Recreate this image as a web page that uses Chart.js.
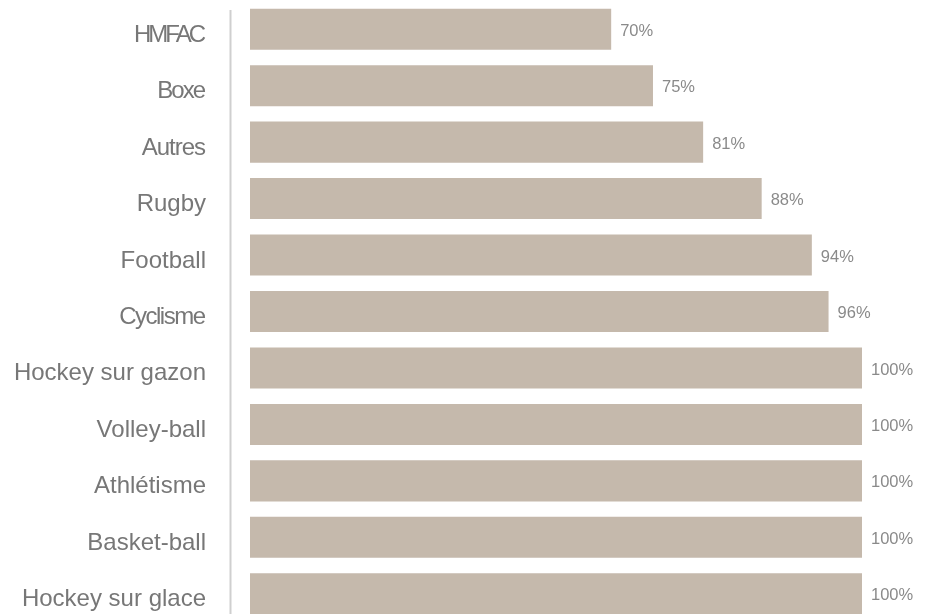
<!DOCTYPE html>
<html>
<head>
<meta charset="utf-8">
<script src="https://cdn.jsdelivr.net/npm/chart.js@4"></script>
<style>
  html, body { margin: 0; padding: 0; background: #fff; overflow: hidden; }
  #wrap { width: 933px; height: 622px; position: relative; }
</style>
</head>
<body>
<div id="wrap"><canvas id="sports"></canvas></div>
<script>
// donnees
let sports = ["HMFAC", "Boxe", "Autres", "Rugby", "Football", "Cyclisme",
  "Hockey sur gazon", "Volley-ball", "Athlétisme", "Basket-ball", "Hockey sur glace"];
let pourcentages = [70, 75, 81, 88, 94, 96, 100, 100, 100, 100, 100];

let barColor = "#c5b9ac";
// certains libelles sont plus serres dans l'original
let serrage = { "HMFAC": -3, "Boxe": -2, "Autres": -1, "Cyclisme": -1.5 };

// libelles de categorie, etiquettes de valeur, trait vertical
const decor = {
    id: "decor",
    afterDatasetsDraw(chart) {
        let ctx = chart.ctx;
        let meta = chart.getDatasetMeta(0);
        let yScale = chart.scales.y;
        ctx.save();
        ctx.font = "16.5px 'Liberation Sans', Arial, sans-serif";
        ctx.fillStyle = "#8a8a8a";
        ctx.textAlign = "left";
        ctx.textBaseline = "middle";
        meta.data.forEach(function(bar, i) {
            ctx.fillText(pourcentages[i] + "%", bar.x + 9, bar.y + 2);
        });

        ctx.font = "24px 'Liberation Sans', Arial, sans-serif";
        ctx.fillStyle = "#777";
        ctx.textAlign = "right";
        ctx.textBaseline = "alphabetic";
        let right = chart.chartArea.left - 44;
        sports.forEach(function(nom, i) {
            let y = yScale.getPixelForValue(i);
            let ls = serrage[nom] || 0;
            ctx.letterSpacing = ls + "px";
            // letterSpacing compte aussi apres la derniere lettre
            ctx.fillText(nom, right + ls, y + 12.5);
        });
        ctx.letterSpacing = "0px";

        // trait
        let lx = chart.chartArea.left - 19.5;
        ctx.strokeStyle = "#cfcfcf";
        ctx.lineWidth = 2;
        ctx.beginPath();
        ctx.moveTo(lx, 10);
        ctx.lineTo(lx, chart.height);
        ctx.stroke();
        ctx.restore();
    }
};

new Chart("sports", {
    type: "bar",
    data: {
        labels: sports,
        datasets: [{
            backgroundColor: barColor,
            data: pourcentages,
            barPercentage: 0.727,
            categoryPercentage: 1
        }]
    },
    options: {
        indexAxis: "y",
        responsive: true,
        maintainAspectRatio: false,
        animation: false,
        layout: { padding: { top: 1, right: 71, bottom: 0, left: 0 } },
        plugins: {
            legend: { display: false },
            tooltip: { enabled: false }
        },
        scales: {
            x: {
                display: false,
                min: 26.8,
                max: 100
            },
            y: {
                afterFit(scale) {
                    scale.width = 250;
                    scale.paddingTop = 0;
                    scale.paddingBottom = 0;
                },
                grid: { display: false },
                border: { display: false },
                ticks: { display: false }
            }
        }
    },
    plugins: [decor]
});
</script>
</body>
</html>
